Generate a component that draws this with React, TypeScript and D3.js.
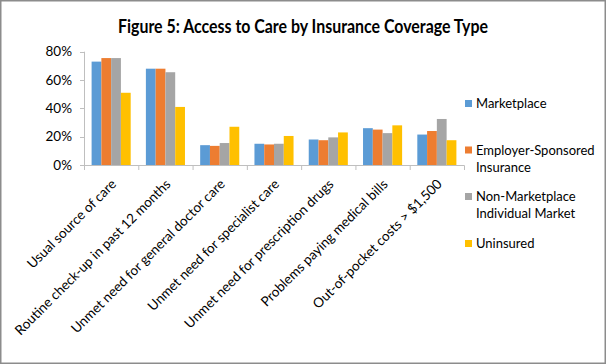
import React from "react";
import * as d3 from "d3";

const categories = [
  "Usual source of care",
  "Routine check-up in past 12 months",
  "Unmet need for general doctor care",
  "Unmet need for specialist care",
  "Unmet need for prescription drugs",
  "Problems paying medical bills",
  "Out-of-pocket costs > $1,500",
];
const seriesNames = ["Marketplace", "Employer-Sponsored Insurance", "Non-Marketplace Individual Market", "Uninsured"];
const legendLines = [["Marketplace"], ["Employer-Sponsored", "Insurance"], ["Non-Marketplace", "Individual Market"], ["Uninsured"]];
const marketplace = [73, 68, 14, 15, 18, 26, 21.5];
const employer = [75.5, 68, 13.5, 14.5, 17.5, 25, 24];
const nonMarketplace = [75.5, 65.5, 15.5, 15, 19.5, 22.5, 32.5];
const uninsured = [51, 41, 27, 20.5, 23, 28, 17.5];
const yTicks = [0, 20, 40, 60, 80];
const colors = ["#5B9BD5", "#ED7D31", "#A5A5A5", "#FFC000"];

const series = [marketplace, employer, nonMarketplace, uninsured];

export default function App() {
  const W = 606, H = 364;
  const x0 = d3.scaleBand<string>().domain(categories).range([84, 464]).paddingInner(0.28).paddingOuter(0.14);
  const x1 = d3.scaleBand<number>().domain([0, 1, 2, 3]).range([0, x0.bandwidth()]);
  const y = d3.scaleLinear().domain([0, 80]).range([165, 51.7]);
  const step = 380 / categories.length;
  const font = "Lato, 'Open Sans', sans-serif";
  const legendY = [103.5, 150, 196.5, 243.5];
  return (
    <div style={{ position: "absolute", left: 0, top: 0 }}>
      <svg width={W} height={H} style={{ display: "block", background: "#fff" }} fontFamily={font}>
        <rect x={0.75} y={0.75} width={W - 1.5} height={H - 1.5} fill="#fff" stroke="#8c8c8c" strokeWidth={1.5} />
        <text x={303} y={33} textAnchor="middle" fontWeight="bold" fontSize={18} fill="#000" textLength={370} lengthAdjust="spacingAndGlyphs">
          Figure 5: Access to Care by Insurance Coverage Type
        </text>
        {/* y axis */}
        <line x1={84.5} x2={84.5} y1={y(80)} y2={y(0)} stroke="#bfbfbf" />
        {yTicks.map((t) => (
          <g key={t}>
            <line x1={80} x2={84.5} y1={Math.round(y(t)) + 0.5} y2={Math.round(y(t)) + 0.5} stroke="#bfbfbf" />
            <text x={72} y={y(t)} dy="0.35em" textAnchor="end" fontSize={13.5} fill="#000">
              {t}%
            </text>
          </g>
        ))}
        {/* bars */}
        {categories.map((c, i) => (
          <g key={c} transform={`translate(${x0(c)},0)`}>
            {series.map((s, j) => (
              <rect key={j} x={x1(j)} width={x1.bandwidth()} y={y(s[i])} height={y(0) - y(s[i])} fill={colors[j]} />
            ))}
          </g>
        ))}
        {/* x axis */}
        <line x1={84} x2={464.5} y1={165.5} y2={165.5} stroke="#bfbfbf" />
        {d3.range(categories.length + 1).map((k) => (
          <line key={k} x1={84.5 + k * step} x2={84.5 + k * step} y1={165.5} y2={170} stroke="#bfbfbf" />
        ))}
        {categories.map((c) => {
          const cx = (x0(c) as number) + x0.bandwidth() / 2 + 6;
          return (
            <text key={c} transform={`translate(${cx},${185}) rotate(-45)`} textAnchor="end" fontSize={13.5} fill="#000">
              {c}
            </text>
          );
        })}
        {/* legend */}
        {seriesNames.map((n, j) => (
          <g key={n}>
            <rect x={465} y={legendY[j] - 3.5} width={7} height={7} fill={colors[j]} />
            {legendLines[j].map((ln, k) => (
              <text key={k} x={476} y={legendY[j] + k * 17} dy="0.35em" fontSize={13} fill="#000">
                {ln}
              </text>
            ))}
          </g>
        ))}
      </svg>
    </div>
  );
}
